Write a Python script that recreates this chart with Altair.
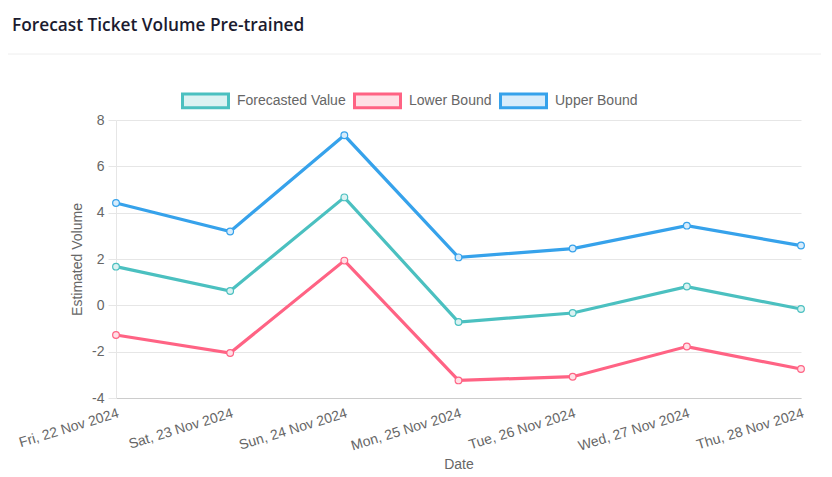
import altair as alt
import pandas as pd

dates = ["Fri, 22 Nov 2024", "Sat, 23 Nov 2024", "Sun, 24 Nov 2024", "Mon, 25 Nov 2024",
         "Tue, 26 Nov 2024", "Wed, 27 Nov 2024", "Thu, 28 Nov 2024"]
forecast = [1.67, 0.62, 4.66, -0.72, -0.33, 0.81, -0.16]
lower = [-1.28, -2.06, 1.93, -3.24, -3.08, -1.78, -2.75]
upper = [4.42, 3.19, 7.34, 2.07, 2.45, 3.44, 2.58]

series_names = ["Forecasted Value", "Lower Bound", "Upper Bound"]
stroke_colors = ["rgb(75,192,192)", "rgb(255,99,132)", "rgb(54,162,235)"]
fill_colors = ["#dbf2f2", "#ffe0e6", "#d7ecfb"]
y_ticks = [-4, -2, 0, 2, 4, 6, 8]

rows = []
for name, vals in zip(series_names, [forecast, lower, upper]):
    for d, v in zip(dates, vals):
        rows.append({"date": d, "value": v, "series": name})
df = pd.DataFrame(rows)

FONT = "Liberation Sans"
GRID = "#e6e6e6"

x_enc = alt.X("date:O", sort=dates, title="Date",
              scale=alt.Scale(type="point", padding=0),
              axis=alt.Axis(labelAngle=343, labelAlign="right", labelBaseline="top",
                            labelPadding=8, labelFontSize=14, labelColor="#666",
                            labelFont=FONT, titleFont=FONT, titleFontSize=14,
                            titleFontWeight="normal", titleColor="#666", titlePadding=4,
                            grid=False, ticks=False, domainColor="#cccccc",
                            labelOverlap=False))
y_enc = alt.Y("value:Q", title="Estimated Volume",
              scale=alt.Scale(domain=[-4, 8], nice=False, zero=False),
              axis=alt.Axis(values=y_ticks, labelExpr="'' + datum.value",
                            labelFontSize=14, labelColor="#666",
                            labelFont=FONT, titleFont=FONT, titleFontSize=14,
                            titleFontWeight="normal", titleColor="#666", titlePadding=7,
                            gridColor=GRID, tickColor=GRID, tickSize=8, domainColor=GRID,
                            labelPadding=4))

leg = dict(title=None, orient="none", legendX=65, legendY=-44, direction="horizontal",
           symbolType="M-1,-0.3H1V0.3H-1Z", symbolSize=2116, symbolStrokeWidth=3,
           labelFontSize=14, labelFont=FONT, labelColor="#666", labelOffset=7,
           columnPadding=2)
stroke_enc = alt.Stroke("series:N", scale=alt.Scale(domain=series_names, range=stroke_colors),
                        legend=alt.Legend(**leg))
fill_enc = alt.Fill("series:N", scale=alt.Scale(domain=series_names, range=fill_colors),
                    legend=alt.Legend(**leg))

base = alt.Chart(df)
lines = base.mark_line(strokeWidth=3.2).encode(x=x_enc, y=y_enc, stroke=stroke_enc,
                                              detail="series:N")
points = base.mark_point(size=45, strokeWidth=1.2, filled=False, opacity=1).encode(
    x=x_enc, y=y_enc, stroke=stroke_enc, fill=fill_enc)

sep = alt.Chart(pd.DataFrame({"a": [0]})).mark_rule(color="#eeeeee", strokeWidth=1).encode(
    x=alt.value(-108), x2=alt.value(716), y=alt.value(-66))

chart = alt.layer(sep, lines, points).properties(
    width=685, height=278,
    background="white",
    autosize=alt.AutoSizeParams(type="none"),
    padding={"left": 108, "top": 112, "right": 20, "bottom": 80},
    title=alt.Title("Forecast Ticket Volume Pre-trained", anchor="start", frame="group",
                    dx=-104, dy=-19, font="Open Sans", fontSize=17.3, fontWeight=600,
                    color="#1b1b2f", offset=0),
).configure_view(stroke=None)

chart.save("out.html", embed_options={"renderer": "svg", "actions": False})
